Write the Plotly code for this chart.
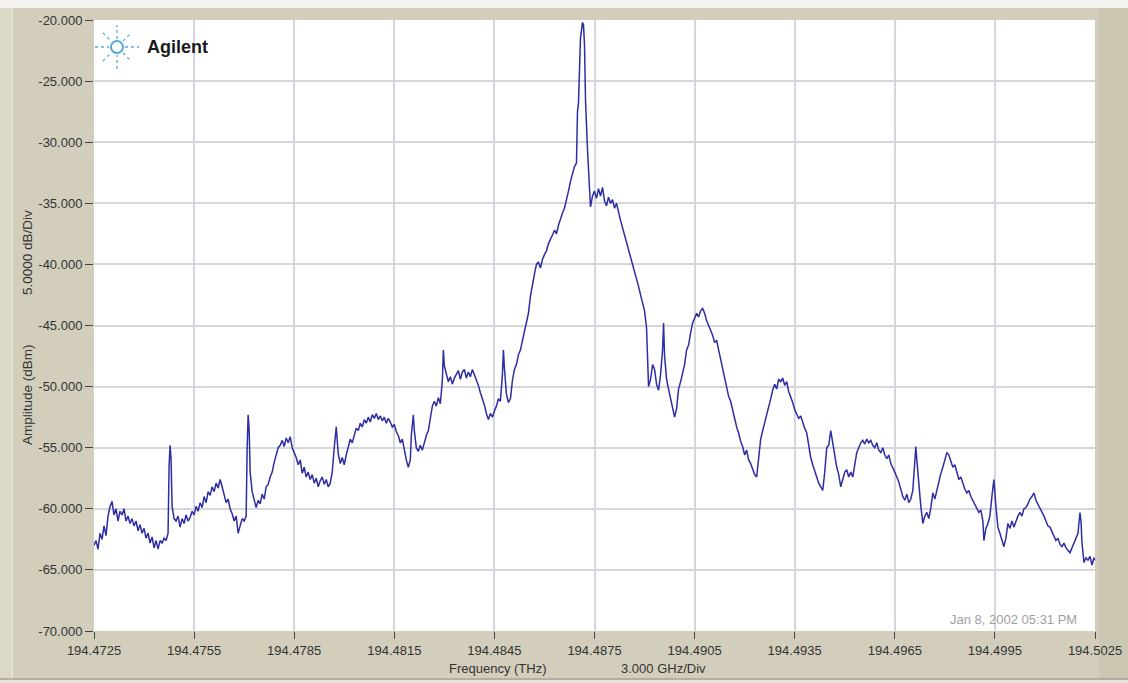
import plotly.graph_objects as go

# ---------------- data ----------------
f0_thz = 194.4725  # start frequency of the sweep (THz)

# frequency offset from f0 (GHz)
freq_offset_ghz = [
    0.00, 0.06, 0.12, 0.18, 0.24, 0.30, 0.36, 0.42, 0.48, 0.54, 0.60, 0.66, 0.72, 0.78, 0.84, 0.90,
    0.96, 1.02, 1.08, 1.14, 1.20, 1.26, 1.32, 1.38, 1.44, 1.50, 1.56, 1.62, 1.68, 1.74, 1.80, 1.86,
    1.92, 1.98, 2.04, 2.10, 2.16, 2.22, 2.25, 2.28, 2.31, 2.34, 2.40, 2.46, 2.52, 2.58, 2.64, 2.70,
    2.76, 2.82, 2.88, 2.94, 3.00, 3.06, 3.12, 3.18, 3.24, 3.30, 3.36, 3.42, 3.48, 3.54, 3.60, 3.66,
    3.72, 3.78, 3.84, 3.90, 3.96, 4.02, 4.08, 4.14, 4.20, 4.26, 4.32, 4.38, 4.44, 4.50, 4.56, 4.59,
    4.62, 4.65, 4.68, 4.74, 4.80, 4.86, 4.92, 4.98, 5.04, 5.10, 5.16, 5.22, 5.28, 5.34, 5.40, 5.46,
    5.52, 5.58, 5.64, 5.70, 5.76, 5.82, 5.88, 5.94, 6.00, 6.06, 6.12, 6.18, 6.24, 6.30, 6.36, 6.42,
    6.48, 6.54, 6.60, 6.66, 6.72, 6.78, 6.84, 6.90, 6.96, 7.02, 7.08, 7.14, 7.20, 7.26, 7.32, 7.38,
    7.44, 7.50, 7.56, 7.62, 7.68, 7.74, 7.80, 7.86, 7.92, 7.98, 8.04, 8.10, 8.16, 8.22, 8.28, 8.34,
    8.40, 8.46, 8.52, 8.58, 8.64, 8.70, 8.76, 8.82, 8.88, 8.94, 9.00, 9.06, 9.12, 9.18, 9.24, 9.30,
    9.36, 9.42, 9.48, 9.51, 9.57, 9.60, 9.66, 9.72, 9.78, 9.84, 9.90, 9.96, 10.02, 10.08, 10.14, 10.20,
    10.26, 10.32, 10.38, 10.44, 10.47, 10.50, 10.56, 10.62, 10.68, 10.74, 10.80, 10.86, 10.92, 10.98, 11.04, 11.10,
    11.16, 11.22, 11.28, 11.34, 11.40, 11.46, 11.52, 11.58, 11.64, 11.70, 11.76, 11.82, 11.88, 11.94, 12.00, 12.06,
    12.12, 12.18, 12.24, 12.27, 12.30, 12.36, 12.42, 12.48, 12.54, 12.60, 12.66, 12.72, 12.78, 12.84, 12.90, 12.96,
    13.02, 13.08, 13.14, 13.20, 13.26, 13.32, 13.38, 13.44, 13.50, 13.56, 13.62, 13.68, 13.74, 13.80, 13.86, 13.92,
    13.98, 14.04, 14.10, 14.16, 14.22, 14.28, 14.34, 14.40, 14.46, 14.49, 14.52, 14.58, 14.64, 14.67, 14.70, 14.73,
    14.79, 14.85, 14.88, 14.94, 15.00, 15.06, 15.12, 15.18, 15.24, 15.30, 15.36, 15.42, 15.48, 15.54, 15.60, 15.66,
    15.72, 15.78, 15.84, 15.90, 15.96, 16.02, 16.08, 16.14, 16.20, 16.26, 16.32, 16.38, 16.44, 16.50, 16.56, 16.62,
    16.68, 16.74, 16.80, 16.86, 16.92, 16.98, 17.04, 17.07, 17.10, 17.16, 17.22, 17.28, 17.34, 17.40, 17.46, 17.52,
    17.58, 17.64, 17.70, 17.76, 17.82, 17.88, 17.94, 18.00, 18.06, 18.12, 18.18, 18.24, 18.30, 18.36, 18.42, 18.48,
    18.54, 18.60, 18.66, 18.72, 18.78, 18.84, 18.90, 18.96, 19.02, 19.08, 19.14, 19.20, 19.26, 19.32, 19.38, 19.44,
    19.50, 19.56, 19.62, 19.68, 19.74, 19.80, 19.86, 19.92, 19.98, 20.04, 20.10, 20.16, 20.22, 20.28, 20.34, 20.40,
    20.46, 20.52, 20.58, 20.64, 20.70, 20.76, 20.82, 20.88, 20.94, 21.00, 21.06, 21.12, 21.18, 21.24, 21.30, 21.36,
    21.42, 21.48, 21.54, 21.60, 21.66, 21.72, 21.78, 21.84, 21.90, 21.96, 22.02, 22.08, 22.14, 22.20, 22.26, 22.32,
    22.38, 22.44, 22.50, 22.56, 22.62, 22.68, 22.74, 22.80, 22.86, 22.92, 22.98, 23.04, 23.10, 23.16, 23.22, 23.28,
    23.34, 23.40, 23.46, 23.52, 23.58, 23.64, 23.70, 23.76, 23.82, 23.88, 23.94, 24.00, 24.06, 24.12, 24.18, 24.24,
    24.30, 24.36, 24.42, 24.48, 24.54, 24.60, 24.63, 24.66, 24.72, 24.78, 24.84, 24.90, 24.96, 25.02, 25.08, 25.14,
    25.20, 25.26, 25.32, 25.38, 25.44, 25.50, 25.56, 25.62, 25.68, 25.74, 25.80, 25.86, 25.92, 25.98, 26.04, 26.10,
    26.16, 26.22, 26.28, 26.34, 26.40, 26.46, 26.52, 26.58, 26.64, 26.67, 26.73, 26.79, 26.85, 26.91, 26.97, 27.03,
    27.09, 27.15, 27.21, 27.27, 27.33, 27.39, 27.45, 27.51, 27.57, 27.63, 27.69, 27.75, 27.81, 27.87, 27.93, 27.99,
    28.05, 28.11, 28.17, 28.23, 28.29, 28.35, 28.41, 28.47, 28.53, 28.59, 28.65, 28.71, 28.77, 28.83, 28.89, 28.95,
    29.01, 29.07, 29.13, 29.19, 29.25, 29.31, 29.37, 29.43, 29.49, 29.55, 29.58, 29.61, 29.67, 29.73, 29.79, 29.85,
    29.91, 29.97, 30.00,
]

# measured amplitude (dBm)
amplitude_dbm = [
    -63.0, -62.6, -63.3, -62.0, -62.5, -61.4, -62.2, -60.6, -59.8, -59.4, -60.5, -60.0, -61.0, -60.2, -60.5, -60.0,
    -61.0, -60.6, -61.2, -60.8, -61.4, -61.0, -61.8, -61.3, -62.0, -61.6, -62.4, -62.0, -62.8, -62.3, -63.2, -62.6,
    -63.3, -62.6, -62.8, -62.4, -62.6, -62.0, -56.5, -54.8, -56.0, -59.8, -60.8, -61.0, -60.6, -61.5, -60.8, -61.2,
    -60.5, -61.0, -60.7, -60.2, -60.5, -59.8, -60.2, -59.5, -59.9, -59.0, -59.5, -58.6, -58.9, -58.2, -58.6, -57.9,
    -58.3, -57.6, -58.2, -58.8, -59.5, -59.2, -60.0, -60.4, -61.0, -60.6, -62.0, -61.4, -60.8, -61.0, -60.6, -55.0,
    -52.3, -53.5, -57.0, -58.6, -59.4, -59.9, -59.3, -59.6, -58.8, -59.2, -58.2, -58.0, -57.4, -57.0, -56.2, -55.6,
    -55.0, -54.8, -54.4, -54.9, -54.2, -54.6, -54.1, -55.0, -55.4, -55.8, -56.4, -56.0, -57.1, -56.6, -57.4, -57.0,
    -57.6, -57.2, -57.9, -57.5, -58.2, -57.7, -57.4, -58.0, -57.6, -58.2, -57.9, -57.0, -55.0, -53.3, -55.5, -56.3,
    -55.8, -56.4, -55.6, -55.0, -54.3, -54.6, -53.9, -53.4, -53.6, -53.0, -53.3, -52.7, -53.0, -52.5, -52.9, -52.3,
    -52.6, -52.2, -52.7, -52.4, -52.8, -52.5, -53.0, -52.6, -52.9, -53.3, -53.1, -53.7, -54.0, -54.6, -54.3, -55.2,
    -56.0, -56.6, -56.0, -54.0, -52.3, -53.6, -55.0, -55.3, -54.8, -55.2, -54.5, -54.0, -53.6, -52.6, -51.6, -51.2,
    -51.6, -50.9, -51.4, -49.5, -47.0, -48.3, -48.9, -49.6, -49.2, -49.8, -49.3, -49.0, -48.7, -49.4, -48.8, -48.6,
    -49.3, -48.8, -49.2, -48.6, -49.0, -49.5, -49.9, -50.5, -51.0, -51.5, -52.2, -52.7, -52.2, -52.5, -52.0, -51.6,
    -51.0, -51.2, -49.0, -47.0, -48.5, -50.6, -51.3, -51.0, -49.5, -48.6, -48.2, -47.4, -47.0, -46.3, -45.5, -44.8,
    -44.0, -42.6, -41.5, -40.8, -40.0, -39.8, -40.3, -39.6, -39.2, -38.9, -38.3, -38.0, -37.6, -37.2, -37.5, -36.8,
    -36.2, -35.8, -35.4, -34.8, -34.0, -33.2, -32.6, -32.0, -31.7, -27.5, -26.8, -21.5, -20.2, -20.4, -22.0, -26.5,
    -30.6, -34.0, -35.3, -34.4, -34.0, -34.6, -33.8, -34.4, -33.7, -34.8, -35.2, -34.5, -35.0, -34.7, -35.4, -35.0,
    -35.8, -36.4, -37.0, -37.6, -38.2, -38.6, -39.4, -39.8, -40.4, -41.2, -41.8, -42.5, -43.2, -43.8, -45.2, -50.0,
    -49.4, -48.2, -48.6, -49.8, -50.3, -49.0, -47.0, -44.8, -47.5, -49.4, -50.2, -51.0, -51.6, -52.5, -51.8, -50.2,
    -49.6, -48.8, -48.2, -47.0, -46.6, -45.6, -44.8, -44.4, -44.0, -44.3, -43.8, -43.6, -44.0, -44.6, -45.0, -45.5,
    -45.8, -46.4, -46.2, -47.0, -47.8, -48.5, -49.5, -50.2, -50.8, -51.2, -52.0, -52.7, -53.3, -53.8, -54.5, -54.9,
    -55.6, -55.2, -56.0, -56.3, -56.8, -57.2, -57.4, -56.0, -54.3, -53.6, -53.0, -52.4, -51.8, -51.0, -50.3, -49.8,
    -50.2, -49.4, -49.6, -49.3, -49.9, -49.6, -50.4, -50.8, -51.3, -51.9, -52.2, -52.6, -52.4, -53.0, -53.4, -53.8,
    -54.8, -55.8, -56.4, -57.0, -57.4, -57.9, -58.2, -58.5, -57.0, -55.0, -54.8, -53.6, -54.6, -55.8, -56.6, -57.2,
    -58.2, -57.6, -57.0, -56.8, -57.4, -57.0, -57.4, -56.4, -55.4, -55.0, -54.6, -54.4, -54.7, -54.3, -54.6, -54.4,
    -54.8, -55.0, -54.6, -55.2, -55.4, -55.0, -55.6, -55.9, -55.6, -56.3, -56.6, -57.0, -57.4, -57.8, -58.4, -59.0,
    -59.3, -58.8, -59.5, -59.2, -58.5, -55.6, -54.9, -56.0, -58.2, -59.8, -61.2, -60.6, -60.3, -60.8, -59.9, -58.7,
    -59.2, -58.4, -57.6, -57.1, -56.6, -56.0, -55.4, -55.6, -56.2, -56.6, -56.4, -57.0, -57.6, -57.4, -58.0, -58.4,
    -58.7, -58.5, -59.0, -59.3, -59.6, -59.9, -60.3, -60.1, -61.0, -62.6, -61.6, -61.2, -60.6, -59.0, -57.6, -59.8,
    -61.5, -62.0, -62.6, -63.1, -62.4, -61.2, -61.6, -61.0, -61.5, -61.0, -60.6, -60.3, -60.6, -60.0, -59.9, -59.6,
    -59.2, -59.0, -58.7, -59.3, -59.6, -60.0, -60.3, -60.6, -61.0, -61.4, -61.5, -61.9, -62.2, -62.6, -62.4, -62.9,
    -63.1, -62.8, -63.2, -63.4, -63.6, -63.2, -62.8, -62.4, -62.0, -60.3, -61.0, -62.8, -64.4, -64.0, -64.2, -63.9,
    -64.6, -64.0, -64.2,
]

x_tick_values = [194.4725, 194.4755, 194.4785, 194.4815, 194.4845, 194.4875,
                 194.4905, 194.4935, 194.4965, 194.4995, 194.5025]
x_tick_labels = ["194.4725", "194.4755", "194.4785", "194.4815", "194.4845", "194.4875",
                 "194.4905", "194.4935", "194.4965", "194.4995", "194.5025"]
y_tick_values = [-20, -25, -30, -35, -40, -45, -50, -55, -60, -65, -70]
y_tick_labels = ["-20.000", "-25.000", "-30.000", "-35.000", "-40.000", "-45.000",
                 "-50.000", "-55.000", "-60.000", "-65.000", "-70.000"]

x_axis_title = "Frequency (THz)"
x_div_label = "3.000 GHz/Div"
y_axis_title = "Amplitude (dBm)"
y_div_label = "5.0000 dB/Div"
timestamp = "Jan 8, 2002 05:31 PM"
brand = "Agilent"

# ---------------- figure ----------------
freq_thz = [f0_thz + v / 1000.0 for v in freq_offset_ghz]

W, H = 1128, 683
L, R, T, B = 94, 33, 20, 52
PW, PH = W - L - R, H - T - B


def px(x):
    return (x - L) / PW


def py(y):
    return (H - B - y) / PH


BEIGE = "#d2cebb"
FONT = "Liberation Sans, Arial, sans-serif"

fig = go.Figure()
fig.add_trace(go.Scatter(
    x=freq_thz, y=amplitude_dbm, mode="lines",
    line=dict(color="#2e2ea4", width=1.5), hoverinfo="x+y", showlegend=False,
))

shapes = [
    # top light strip
    dict(type="rect", xref="paper", yref="paper", x0=px(0), x1=px(W), y0=py(8), y1=py(0),
         fillcolor="#f3f3ef", line_width=0, layer="below"),
    # left lighter column
    dict(type="rect", xref="paper", yref="paper", x0=px(0), x1=px(12), y0=py(679), y1=py(8),
         fillcolor="#dbd8c8", line_width=0, layer="below"),
    dict(type="line", xref="paper", yref="paper", x0=px(12.5), x1=px(12.5), y0=py(679), y1=py(8),
         line=dict(color="#ebe9de", width=1), layer="below"),
    # right slightly darker panel
    dict(type="rect", xref="paper", yref="paper", x0=px(1099), x1=px(W), y0=py(679), y1=py(8),
         fillcolor="#cbc7b2", line_width=0, layer="below"),
    # bottom edge
    dict(type="line", xref="paper", yref="paper", x0=px(0), x1=px(W), y0=py(679), y1=py(679),
         line=dict(color="#a9a593", width=1.5), layer="below"),
    dict(type="rect", xref="paper", yref="paper", x0=px(0), x1=px(W), y0=py(H), y1=py(680),
         fillcolor="#e6e4da", line_width=0, layer="below"),
]

# Agilent spark logo
cx, cy = px(117), py(47)
logo_col = "#57a9dc"
rays = [(-22, 0, -8, 0), (8, 0, 22, 0), (0, -22, 0, -8), (0, 8, 0, 22),
        (-14, -14, -6, -6), (6, 6, 14, 14), (-14, 14, -6, 6), (6, -6, 14, -14)]
for (a, b, c, d) in rays:
    shapes.append(dict(type="line", xref="paper", yref="paper", xsizemode="pixel", ysizemode="pixel",
                       xanchor=cx, yanchor=cy, x0=a, x1=c, y0=b, y1=d,
                       line=dict(color=logo_col, width=1.3, dash="dot")))
shapes.append(dict(type="circle", xref="paper", yref="paper", xsizemode="pixel", ysizemode="pixel",
                   xanchor=cx, yanchor=cy, x0=-6, x1=6, y0=-6, y1=6,
                   line=dict(color=logo_col, width=2)))

annotations = [
    dict(text="<b>" + brand + "</b>", xref="paper", yref="paper", x=px(145), y=py(47),
         xanchor="left", yanchor="middle", showarrow=False,
         font=dict(family=FONT, size=18, color="#1a1a1a")),
    dict(text=x_axis_title, xref="paper", yref="paper", x=px(498), y=py(669),
         xanchor="center", yanchor="middle", showarrow=False,
         font=dict(family=FONT, size=13, color="#333333")),
    dict(text=x_div_label, xref="paper", yref="paper", x=px(663), y=py(669),
         xanchor="center", yanchor="middle", showarrow=False,
         font=dict(family=FONT, size=13, color="#333333")),
    dict(text=y_div_label, xref="paper", yref="paper", x=px(27), y=py(253),
         xanchor="center", yanchor="middle", showarrow=False, textangle=-90,
         font=dict(family=FONT, size=13.5, color="#333333")),
    dict(text=y_axis_title, xref="paper", yref="paper", x=px(27), y=py(395),
         xanchor="center", yanchor="middle", showarrow=False, textangle=-90,
         font=dict(family=FONT, size=13.5, color="#333333")),
    dict(text=timestamp, xref="paper", yref="paper", x=px(1079), y=py(619),
         xanchor="right", yanchor="middle", showarrow=False,
         font=dict(family=FONT, size=13, color="#a0a0a0")),
]

fig.update_layout(
    width=W, height=H,
    margin=dict(l=L, r=R, t=T, b=B, pad=0, autoexpand=False),
    paper_bgcolor=BEIGE, plot_bgcolor="#ffffff",
    shapes=shapes, annotations=annotations,
    showlegend=False,
    font=dict(family=FONT, size=12, color="#333333"),
)
fig.update_xaxes(
    range=[194.4725, 194.5025], tickmode="array", tickvals=x_tick_values, ticktext=x_tick_labels,
    showgrid=True, gridcolor="#d6d6de", gridwidth=1.5, zeroline=False, showline=False,
    ticks="outside", ticklen=7, tickwidth=1, tickcolor="#444444", automargin=False,
    tickfont=dict(family=FONT, size=13, color="#333333"),
)
fig.update_yaxes(
    range=[-70, -20], tickmode="array", tickvals=y_tick_values, ticktext=y_tick_labels,
    showgrid=True, gridcolor="#d6d6de", gridwidth=1.5, zeroline=False, showline=False,
    ticks="outside", ticklen=8, tickwidth=1, tickcolor="#444444", automargin=False,
    tickfont=dict(family=FONT, size=13, color="#333333"),
)

fig.write_html(
    "out.html",
    config={"displayModeBar": False},
    post_script="document.body.style.margin='0';document.body.style.overflow='hidden';",
)
